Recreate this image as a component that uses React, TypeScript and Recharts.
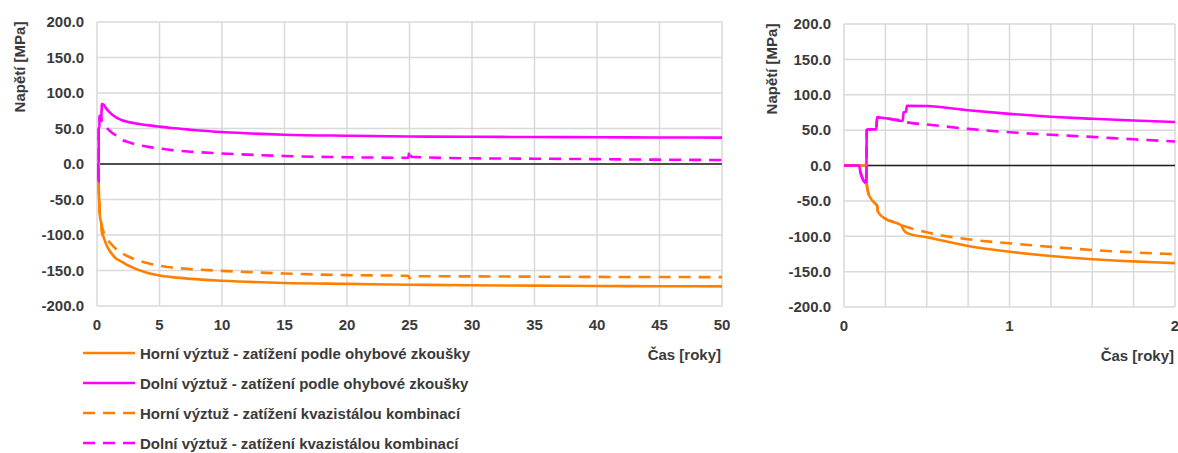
import { CartesianGrid, Legend, Line, LineChart, ReferenceLine, XAxis, YAxis } from "recharts";

const ORANGE = "#ff8000";
const MAGENTA = "#ff00ff";
const FONT = "'Liberation Sans', Arial, sans-serif";
const TEXT = "#3a3a3a";
const GRID = "#d9d9d9";
const DASH = "12 8";

// Horní výztuž - zatížení podle ohybové zkoušky
const horniOhybT = [0, 0.09, 0.135, 0.137, 0.145, 0.163, 0.19, 0.2, 0.205, 0.22, 0.255, 0.3, 0.335, 0.35, 0.36, 0.385, 0.5, 0.75, 1, 1.25, 1.5, 1.75, 2, 2.5, 3, 4, 5, 6, 7.5, 10, 15, 20, 25, 30, 35, 40, 45, 50];
const horniOhybV = [0, 0, 0, -25, -37, -47, -54, -57, -65, -70, -76, -80, -83, -86, -91, -96, -101.5, -113.8, -121.8, -128, -132.6, -135.5, -138, -143, -147, -153, -157, -159.3, -161.8, -164.4, -167.5, -168.8, -170, -170.8, -171.3, -171.8, -172.1, -172.4];

// Dolní výztuž - zatížení podle ohybové zkoušky
const dolniOhybT = [0, 0.09, 0.1, 0.115, 0.135, 0.137, 0.15, 0.195, 0.2, 0.27, 0.355, 0.36, 0.375, 0.38, 0.5, 0.75, 1, 1.25, 1.5, 1.75, 2, 2.5, 3, 4, 5, 6, 7.5, 10, 15, 20, 25, 30, 35, 40, 45, 50];
const dolniOhybV = [0, 0, -10, -20, -25, 50, 51, 51, 68, 66, 63, 75, 76, 84.5, 84, 78, 73, 69, 66, 63.5, 61.5, 59.3, 57.5, 54.8, 52.6, 50.6, 48.3, 45, 41.3, 39.8, 38.8, 38.3, 38, 37.7, 37.4, 37.2];

// Horní výztuž - zatížení kvazistálou kombinací
const horniKvaziT = [0, 0.09, 0.135, 0.137, 0.145, 0.163, 0.19, 0.2, 0.205, 0.22, 0.255, 0.3, 0.335, 0.38, 0.5, 0.75, 1, 1.25, 1.5, 1.75, 2, 2.5, 3, 4, 5, 6, 7.5, 10, 15, 20, 24.9, 25, 25.3, 30, 35, 40, 45, 50];
const horniKvaziV = [0, 0, 0, -25, -37, -47, -54, -57, -65, -70, -76, -80, -83, -87, -94.4, -104.3, -110, -115, -119.4, -122.8, -125.5, -130.3, -134, -139.5, -143.3, -145.8, -148, -150.5, -154.3, -156.5, -157.5, -161, -158, -158.3, -158.7, -159, -159.2, -159.3];

// Dolní výztuž - zatížení kvazistálou kombinací
const dolniKvaziT = [0, 0.09, 0.1, 0.115, 0.135, 0.137, 0.15, 0.195, 0.2, 0.27, 0.355, 0.38, 0.5, 0.75, 1, 1.25, 1.5, 1.75, 2, 2.5, 3, 4, 5, 6, 7.5, 10, 15, 20, 24.9, 25, 25.15, 30, 35, 40, 45, 50];
const dolniKvaziV = [0, 0, -10, -20, -25, 50, 51, 51, 68, 66, 63, 61, 58, 51.8, 47, 43.5, 40.4, 37, 34, 30.8, 28.2, 24.5, 21.8, 19.5, 17.3, 14.8, 11.3, 9.5, 8.8, 20, 10, 8, 7.5, 6.8, 6.1, 5.6];

const yTicks = [-200, -150, -100, -50, 0, 50, 100, 150, 200];
const xTicksLong = [0, 5, 10, 15, 20, 25, 30, 35, 40, 45, 50];
const xTicksShort = [0, 0.25, 0.5, 0.75, 1, 1.25, 1.5, 1.75, 2];

const toPoints = (ts: number[], vs: number[]) => ts.map((t, i) => ({ t, v: vs[i] }));

const series = [
  { name: "Horní výztuž - zatížení podle ohybové zkoušky", color: ORANGE, dash: undefined, data: toPoints(horniOhybT, horniOhybV) },
  { name: "Dolní výztuž - zatížení podle ohybové zkoušky", color: MAGENTA, dash: undefined, data: toPoints(dolniOhybT, dolniOhybV) },
  { name: "Horní výztuž - zatížení kvazistálou kombinací", color: ORANGE, dash: DASH, data: toPoints(horniKvaziT, horniKvaziV) },
  { name: "Dolní výztuž - zatížení kvazistálou kombinací", color: MAGENTA, dash: DASH, data: toPoints(dolniKvaziT, dolniKvaziV) },
];

const tickStyle = { fontSize: 15, fontWeight: 700, fill: TEXT, fontFamily: FONT };

function YTitle({ viewBox }: any) {
  return (
    <text
      transform={`translate(${viewBox.x + 19}, ${viewBox.y + 45}) rotate(-90)`}
      textAnchor="middle"
      dominantBaseline="central"
      style={tickStyle}
    >
      Napětí [MPa]
    </text>
  );
}

function XTitle({ viewBox }: any) {
  return (
    <text x={viewBox.x + viewBox.width - 1} y={viewBox.y + 48} textAnchor="end" dominantBaseline="central" style={tickStyle}>
      Čas [roky]
    </text>
  );
}

function LegendBox() {
  return (
    <div style={{ fontFamily: FONT, fontSize: 15, fontWeight: 700, color: TEXT }}>
      {series.map((s) => (
        <div key={s.name} style={{ display: "flex", alignItems: "center", height: 30, whiteSpace: "nowrap" }}>
          <svg width={52} height={4} style={{ marginRight: 5 }}>
            <line x1={0} y1={2} x2={52} y2={2} stroke={s.color} strokeWidth={2.6} strokeDasharray={s.dash} />
          </svg>
          <span>{s.name}</span>
        </div>
      ))}
    </div>
  );
}

function StressChart({ width, xMax, xTicks, margin, legend }: any) {
  return (
    <LineChart width={width} height={453} margin={margin}>
      <CartesianGrid stroke={GRID} strokeWidth={1.5} />
      <XAxis
        dataKey="t"
        type="number"
        domain={[0, xMax]}
        ticks={xTicks}
        interval={0}
        allowDataOverflow
        tickFormatter={(v: number) => (Number.isInteger(v) ? String(v) : "")}
        axisLine={false}
        tickLine={false}
        tickSize={0}
        tickMargin={13}
        height={30}
        tick={tickStyle}
        label={<XTitle />}
      />
      <YAxis
        type="number"
        domain={[-200, 200]}
        ticks={yTicks}
        interval={0}
        tickFormatter={(v: number) => v.toFixed(1)}
        axisLine={false}
        tickLine={false}
        tickSize={0}
        tickMargin={13}
        width={margin.yWidth}
        tick={tickStyle}
        label={<YTitle />}
      />
      <ReferenceLine y={0} stroke="#1e1e1e" strokeWidth={1.6} />
      {series.map((s) => (
        <Line
          key={s.name}
          data={s.data}
          dataKey="v"
          name={s.name}
          type="monotone"
          stroke={s.color}
          strokeWidth={2.6}
          strokeDasharray={s.dash}
          dot={false}
          activeDot={false}
          isAnimationActive={false}
        />
      ))}
      {legend && (
        <Legend
          verticalAlign="middle"
          align="center"
          content={<LegendBox />}
          wrapperStyle={{ position: "absolute", left: 83, top: 338, width: 440 }}
        />
      )}
    </LineChart>
  );
}

export default function App() {
  return (
    <div style={{ position: "absolute", left: 0, top: 0, width: 1178, height: 453, overflow: "hidden", background: "#fff" }}>
      <div style={{ position: "absolute", left: 0, top: 0 }}>
        <StressChart
          width={740}
          xMax={50}
          xTicks={xTicksLong}
          margin={{ top: 22, right: 18, left: 0, bottom: 117, yWidth: 97 }}
          legend
        />
      </div>
      <div style={{ position: "absolute", left: 752, top: 0 }}>
        <StressChart
          width={441}
          xMax={2}
          xTicks={xTicksShort}
          margin={{ top: 24, right: 18, left: 0, bottom: 116, yWidth: 92 }}
        />
      </div>
    </div>
  );
}
